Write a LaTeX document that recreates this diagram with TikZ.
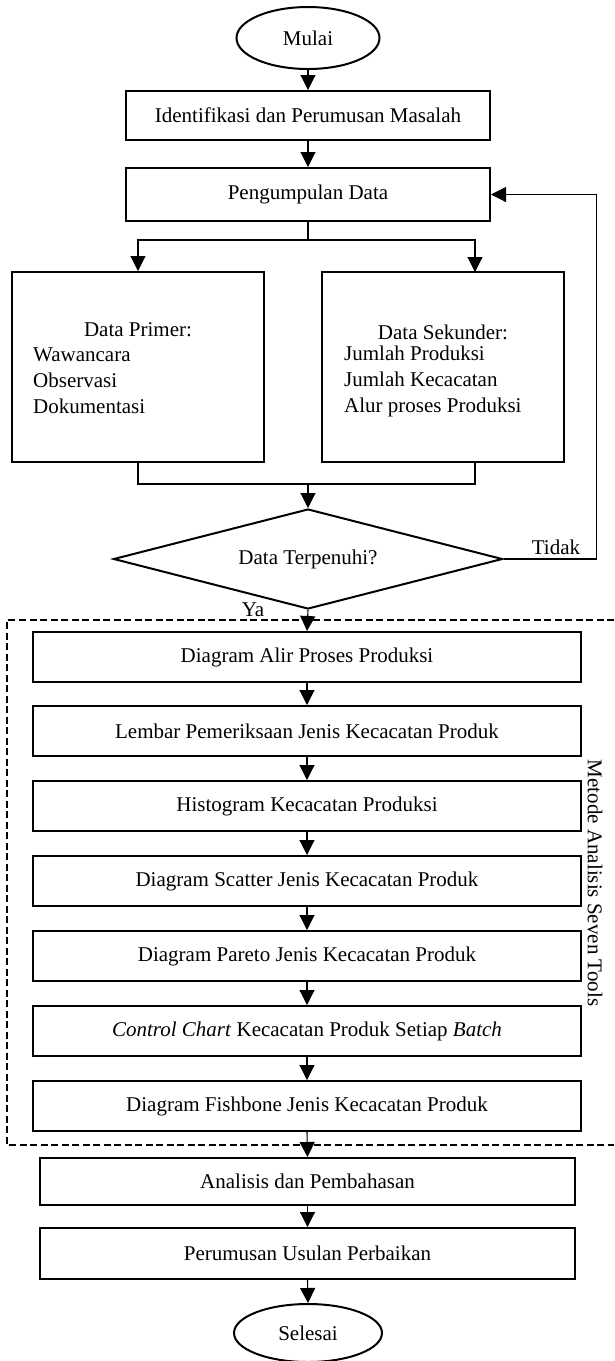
\documentclass[tikz,border=0pt]{standalone}
\usepackage{fontspec}
\setmainfont{Liberation Serif}
\usetikzlibrary{shapes.geometric,arrows.meta,calc}
\newcommand\diafont{\fontsize{21}{26}\selectfont}
\begin{document}
\begin{tikzpicture}[x=1pt,y=-1pt,
  every node/.style={font=\diafont},
  box/.style={draw,line width=2pt,inner sep=0pt,minimum height=50pt},
  sbox/.style={box,minimum width=548pt},
  ell/.style={draw,ellipse,line width=2pt,inner sep=0pt},
  dia/.style={draw,diamond,line width=2pt,inner sep=0pt,aspect=3.89,minimum width=389pt,minimum height=100pt},
  conn/.style={line width=1.1pt},
  arr/.style={conn,-{Triangle[width=15pt,length=15pt]}},
  dashbox/.style={line width=2pt,dash pattern=on 7pt off 3.5pt},
  txt/.style={inner sep=0pt}]
\useasboundingbox (0,0) rectangle (614,1361);

\node[ell,minimum width=143pt,minimum height=62pt] (mulai) at (308,38) {Mulai};
\node[box,minimum width=364pt,minimum height=49pt] (idn) at (308,115.5) {Identifikasi dan Perumusan Masalah};
\node[box,minimum width=364pt,minimum height=53pt] (pd) at (308,194.5) {Pengumpulan Data};

\node[box,minimum width=252pt,minimum height=190pt] (pr) at (138,367) {};
\node[box,minimum width=242pt,minimum height=190pt] (sk) at (443,367) {};
\node[txt] (prt) at (138,330) {Data Primer:};
\node[txt,anchor=west,align=left] (prl) at (33,381) {Wawancara\\Observasi\\Dokumentasi};
\node[txt] (skt) at (443,332) {Data Sekunder:};
\node[txt,anchor=west,align=left] (skl) at (344,381) {Jumlah Produksi\\Jumlah Kecacatan\\Alur proses Produksi};

\coordinate (split) at (308,240);
\coordinate (skin) at (475,272);
\coordinate (skout) at (475,462);
\coordinate (join) at (308,484);

\node[dia] (dt) at (308,559) {Data Terpenuhi?};
\node[txt] (tidak) at (556,547) {Tidak};
\node[txt] (ya) at (253,610) {Ya};

\node[sbox] (b1) at (307,657) {Diagram Alir Proses Produksi};
\node[sbox] (b2) at (307,731) {Lembar Pemeriksaan Jenis Kecacatan Produk};
\node[sbox] (b3) at (307,806) {Histogram Kecacatan Produksi};
\node[sbox] (b4) at (307,881) {Diagram Scatter Jenis Kecacatan Produk};
\node[sbox] (b5) at (307,956) {Diagram Pareto Jenis Kecacatan Produk};
\node[sbox] (b6) at (307,1031) {\textit{Control Chart} Kecacatan Produk Setiap \textit{Batch}};
\node[sbox] (b7) at (307,1106) {Diagram Fishbone Jenis Kecacatan Produk};

\node[box,minimum width=535pt,minimum height=47pt] (an) at (307.5,1181.5) {Analisis dan Pembahasan};
\node[box,minimum width=535pt,minimum height=51pt] (pu) at (307.5,1253.5) {Perumusan Usulan Perbaikan};
\node[ell,minimum width=148pt,minimum height=58pt] (sel) at (308,1333) {Selesai};

\draw[dashbox] (614,620) -- (7,620) -- (7,1145) -- (614,1145);
\node[txt,rotate=-90] (metode) at (595,883) {Metode Analisis Seven Tools};

\draw[arr] (mulai.south) -- (idn.north);
\draw[arr] (idn.south) -- (pd.north);
\draw[conn] (pd.south) -- (split);
\draw[arr] (split) -| (pr.north);
\draw[arr] (split) -| (skin);
\draw[conn] (pr.south) |- (join);
\draw[conn] (skout) |- (join);
\draw[arr] (join) -- (dt.north);
\draw[arr] (dt.east) -- ++(93,0) |- (pd.east);
\draw[arr] (dt.south) -- (b1.north);
\draw[arr] (b1.south) -- (b2.north);
\draw[arr] (b2.south) -- (b3.north);
\draw[arr] (b3.south) -- (b4.north);
\draw[arr] (b4.south) -- (b5.north);
\draw[arr] (b5.south) -- (b6.north);
\draw[arr] (b6.south) -- (b7.north);
\draw[arr] (b7.south) -- (an.north);
\draw[arr] (an.south) -- (pu.north);
\draw[arr] (pu.south) -- (sel.north);
\end{tikzpicture}
\end{document}
